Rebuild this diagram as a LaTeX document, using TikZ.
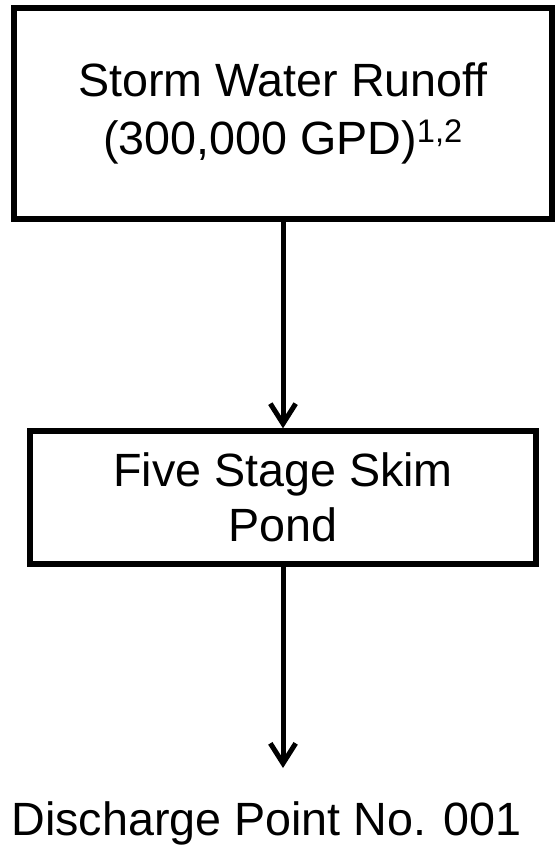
\documentclass[tikz,border=0pt]{standalone}
\usepackage{fontspec}
\setmainfont{Liberation Sans}
\usepackage{tikz}
\usetikzlibrary{arrows.meta, positioning}
\tikzstyle{box} = [draw, line width=4.5pt, align=center, font=\fontsize{35}{43.5}\selectfont]
\tikzstyle{arrow} = [line width=3.75pt, -{Straight Barb[length=15pt,width=19pt]}]

\begin{document}
\begin{tikzpicture}[x=0.75pt, y=-0.75pt]

   % Fix the page to the size of the picture
   \useasboundingbox (0,0) rectangle (556,846);

   % Draw the two boxes
   \node[box, minimum width=403.5pt, minimum height=158.25pt] (runoff) at (283,113.5)
      {Storm Water Runoff\\(300,000 GPD)\textsuperscript{1,2}};
   \node[box, line width=4pt, minimum width=379.5pt, minimum height=99.75pt,
      font=\fontsize{35}{41.25}\selectfont] (pond) at (283,497.5)
      {Five Stage Skim\\Pond};

   % Add the discharge label below the pond
   \node[font=\fontsize{35}{42}\selectfont, anchor=base] (discharge) at (266.5,835)
      {Discharge Point No. 001};
   \coordinate (outlet) at (283,768);

   % Draw the flow arrows
   \draw[arrow] (runoff.south) -- (pond.north);
   \draw[arrow] (pond.south) -- (outlet);

\end{tikzpicture}
\end{document}
